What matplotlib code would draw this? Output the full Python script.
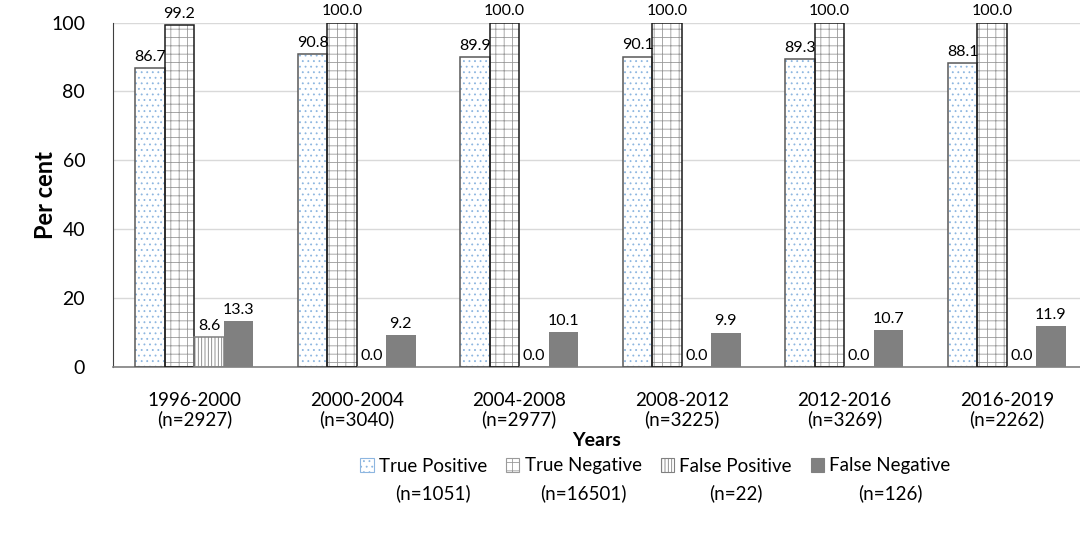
import matplotlib
matplotlib.use("Agg")
import matplotlib.pyplot as plt
from matplotlib.patches import Patch
import numpy as np

plt.rcParams['font.family'] = ['Lato', 'DejaVu Sans']
plt.rcParams['hatch.linewidth'] = 0.6

# data
periods = ['1996-2000', '2000-2004', '2004-2008', '2008-2012', '2012-2016', '2016-2019']
period_n = ['2927', '3040', '2977', '3225', '3269', '2262']
series = ['True Positive', 'True Negative', 'False Positive', 'False Negative']
series_n = ['1051', '16501', '22', '126']
true_pos = [86.7, 90.8, 89.9, 90.1, 89.3, 88.1]
true_neg = [99.2, 100.0, 100.0, 100.0, 100.0, 100.0]
false_pos = [8.6, 0.0, 0.0, 0.0, 0.0, 0.0]
false_neg = [13.3, 9.2, 10.1, 9.9, 10.7, 11.9]
values = [true_pos, true_neg, false_pos, false_neg]

# styles: (hatch, hatch colour, outline colour, fill)
styles = [
    ('...', '#8db6e0', '#595959', 'white'),
    ('++', '#9a9a9a', '#1a1a1a', 'white'),
    ('|||||', '#808080', '#808080', 'white'),
    (None, '#808080', '#808080', '#808080'),
]

fig = plt.figure(figsize=(10.8, 5.34), dpi=100)
ax = fig.add_axes([113/1080, 1-367/534, 975/1080, 344.5/534])

x = np.arange(len(periods))
w = 0.181
for i, vals in enumerate(values):
    hatch, hc, ec, fc = styles[i]
    pos = x + (i - 1.5) * w
    if hatch:
        ax.bar(pos, vals, w, color=fc, edgecolor=hc, hatch=hatch, linewidth=0, zorder=2)
        ax.bar(pos, vals, w, fill=False, edgecolor=ec, linewidth=1.1, zorder=3)
    else:
        ax.bar(pos, vals, w, color=fc, edgecolor='none', zorder=2)
    for p, v in zip(pos, vals):
        ax.text(p, v + 1.3, '%.1f' % v, ha='center', va='bottom', fontsize=11.5, zorder=4)

ax.set_xlim(-0.5, 5.5)
ax.set_ylim(0, 100)
ax.set_yticks(range(0, 101, 20))
ax.tick_params(axis='y', length=0, labelsize=14, pad=20)
ax.tick_params(axis='x', length=0, labelsize=13.5, pad=18)
ax.set_xticks(x)
ax.set_xticklabels(['%s\n(n=%s)' % (p, n) for p, n in zip(periods, period_n)], linespacing=1.1)
ax.grid(axis='y', color='#d9d9d9', linewidth=1, zorder=0)
ax.set_axisbelow(True)
for s in ['top', 'right']:
    ax.spines[s].set_visible(False)
ax.spines['left'].set_color('#404040')
ax.spines['bottom'].set_color('#808080')
ax.spines['bottom'].set_linewidth(1.2)

ax.set_ylabel('Per cent', fontsize=17, fontweight='bold')
ax.yaxis.set_label_coords(-0.057, 0.5)
fig.text(0.552, 1-441/534, 'Years', fontsize=14, fontweight='bold', ha='center', va='center')

handles = []
for i, name in enumerate(series):
    hatch, hc, ec, fc = styles[i]
    handles.append(Patch(facecolor=fc, edgecolor=hc, hatch=hatch, linewidth=0.8))
leg = fig.legend(handles, series, ncol=4, loc='center', bbox_to_anchor=(0.607, 1-466/534),
                 frameon=False, fontsize=13.5, handlelength=0.7, handleheight=0.7,
                 handletextpad=0.3, columnspacing=1.0)

fig.canvas.draw()
inv = fig.transFigure.inverted()
for t, n in zip(leg.get_texts(), series_n):
    bb = t.get_window_extent()
    cx = (bb.x0 + bb.x1) / 2
    fx, fy = inv.transform((cx, bb.y0))
    fig.text(fx, 1-493/534, '(n=%s)' % n, fontsize=13.5, ha='center', va='center')

fig.savefig('out.png', dpi=100)
